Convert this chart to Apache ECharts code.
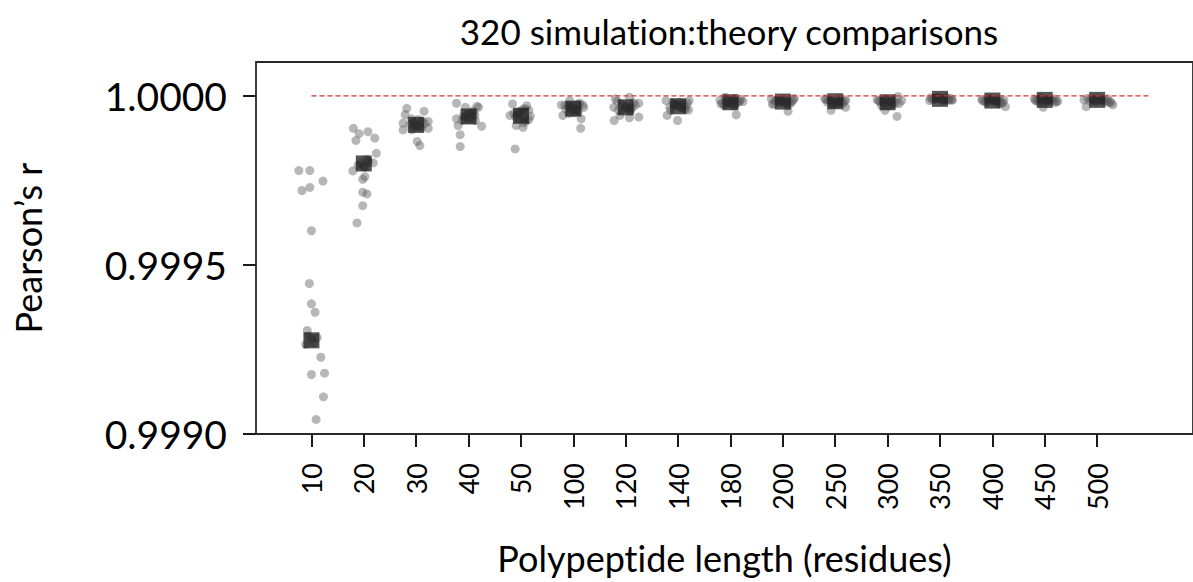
<!DOCTYPE html>
<html>
<head>
<meta charset="utf-8">
<script src="https://cdn.jsdelivr.net/npm/echarts@6/dist/echarts.min.js"></script>
<style>
  html, body { margin: 0; padding: 0; background: #ffffff; }
  #chart { width: 1193px; height: 582px; font-variant-ligatures: none; font-feature-settings: "liga" 0, "clig" 0; }
  #chart text { font-variant-ligatures: none; font-feature-settings: "liga" 0, "clig" 0; }
</style>
</head>
<body>
<div id="chart"></div>
<script>
// ---- Data ----
const categories = ['10','20','30','40','50','100','120','140','180','200','250','300','350','400','450','500'];

// mean Pearson's r per length (black squares)
const means = [0.999277, 0.999800, 0.999914, 0.999939, 0.999941, 0.999962, 0.999966, 0.999969,
               0.999981, 0.999983, 0.999984, 0.999981, 0.999991, 0.999986, 0.999988, 0.999988];

// individual simulation:theory comparisons (20 per length)
const pointValues = [
  [0.999779,0.999779,0.999748,0.999720,0.999729,0.999601,0.999445,0.999385,0.999360,0.999306,0.999227,0.999176,0.999180,0.999110,0.999043,0.999290,0.999270,0.999285,0.999265,0.999282],
  [0.999904,0.999888,0.999894,0.999875,0.999868,0.999830,0.999802,0.999789,0.999778,0.999761,0.999753,0.999715,0.999710,0.999675,0.999624,0.999800,0.999805,0.999795,0.999812,0.999790],
  [0.999963,0.999954,0.999944,0.999919,0.999899,0.999924,0.999904,0.999865,0.999853,0.999932,0.999920,0.999910,0.999915,0.999905,0.999925,0.999912,0.999930,0.999900,0.999918,0.999908],
  [0.999978,0.999966,0.999969,0.999966,0.999932,0.999912,0.999910,0.999885,0.999850,0.999927,0.999945,0.999935,0.999950,0.999940,0.999930,0.999948,0.999938,0.999955,0.999942,0.999928],
  [0.999976,0.999971,0.999942,0.999907,0.999843,0.999912,0.999957,0.999945,0.999935,0.999950,0.999925,0.999938,0.999960,0.999930,0.999948,0.999940,0.999920,0.999955,0.999932,0.999962],
  [0.999973,0.999942,0.999904,0.999973,0.999932,0.999986,0.999965,0.999958,0.999970,0.999955,0.999968,0.999975,0.999960,0.999950,0.999978,0.999962,0.999966,0.999948,0.999972,0.999957],
  [0.999991,0.999996,0.999978,0.999966,0.999937,0.999935,0.999927,0.999942,0.999970,0.999960,0.999975,0.999965,0.999958,0.999980,0.999968,0.999962,0.999972,0.999955,0.999984,0.999964],
  [0.999986,0.999978,0.999942,0.999927,0.999957,0.999986,0.999970,0.999965,0.999975,0.999962,0.999980,0.999968,0.999972,0.999960,0.999976,0.999966,0.999982,0.999958,0.999974,0.999970],
  [0.999944,0.999983,0.999996,0.999990,0.999978,0.999985,0.999975,0.999988,0.999980,0.999972,0.999992,0.999982,0.999976,0.999986,0.999979,0.999984,0.999970,0.999987,0.999981,0.999977],
  [0.999954,0.999991,0.999993,0.999976,0.999985,0.999980,0.999988,0.999978,0.999986,0.999982,0.999990,0.999975,0.999984,0.999987,0.999979,0.999983,0.999972,0.999989,0.999981,0.999985],
  [0.999966,0.999957,0.999981,0.999990,0.999985,0.999978,0.999987,0.999980,0.999992,0.999983,0.999976,0.999988,0.999982,0.999986,0.999979,0.999984,0.999975,0.999989,0.999981,0.999985],
  [0.999939,0.999986,0.999986,0.999957,0.999998,0.999980,0.999975,0.999984,0.999978,0.999988,0.999982,0.999972,0.999985,0.999979,0.999990,0.999977,0.999983,0.999970,0.999987,0.999981],
  [0.999986,0.999988,0.999995,0.999990,0.999992,0.999987,0.999994,0.999989,0.999993,0.999985,0.999991,0.999996,0.999988,0.999992,0.999990,0.999994,0.999987,0.999993,0.999989,0.999991],
  [0.999986,0.999968,0.999990,0.999982,0.999988,0.999984,0.999992,0.999980,0.999987,0.999985,0.999989,0.999983,0.999978,0.999991,0.999986,0.999981,0.999988,0.999984,0.999990,0.999976],
  [0.999986,0.999984,0.999966,0.999990,0.999988,0.999992,0.999985,0.999989,0.999983,0.999991,0.999987,0.999980,0.999993,0.999986,0.999990,0.999982,0.999988,0.999991,0.999984,0.999989],
  [0.999968,0.999973,0.999993,0.999988,0.999985,0.999990,0.999982,0.999987,0.999991,0.999984,0.999989,0.999986,0.999980,0.999992,0.999988,0.999983,0.999990,0.999986,0.999979,0.999988]
];

// horizontal strip-plot jitter of each point (in category units)
const pointJitter = [
  [-0.24,-0.03,0.22,-0.18,-0.03,0.0,-0.04,0.0,0.07,-0.08,0.18,0.0,0.25,0.23,0.09,-0.06,0.04,0.11,-0.11,0.0],
  [-0.20,-0.09,0.08,0.21,-0.15,0.24,0.18,0.03,-0.21,0.02,-0.02,-0.02,0.06,-0.02,-0.13,-0.06,0.09,-0.11,0.06,0.0],
  [-0.18,0.15,-0.21,-0.25,-0.25,0.23,0.23,0.02,0.07,-0.09,-0.05,0.05,-0.12,0.10,0.12,-0.02,0.04,-0.08,0.16,0.0],
  [-0.23,-0.06,0.16,0.19,-0.23,-0.20,0.25,-0.16,-0.16,0.13,-0.02,0.05,0.10,-0.10,0.0,0.03,-0.06,0.08,0.12,-0.12],
  [-0.16,0.11,-0.21,0.04,-0.11,-0.09,0.15,0.0,0.06,-0.05,0.10,-0.10,0.04,0.15,-0.14,0.18,0.05,-0.02,-0.04,0.08],
  [-0.23,-0.20,0.14,0.18,0.15,-0.07,0.0,0.05,-0.1,0.1,-0.05,0.08,-0.14,0.02,0.12,-0.02,0.2,-0.08,-0.16,0.06],
  [-0.2,0.07,0.25,-0.23,0.25,0.07,-0.22,-0.11,0.0,0.05,-0.06,0.12,-0.14,0.15,0.02,-0.03,0.18,0.09,-0.16,0.1],
  [-0.23,0.18,-0.21,-0.01,-0.14,0.21,0.0,0.05,-0.06,0.12,-0.1,0.08,-0.03,0.15,0.1,-0.16,0.03,0.2,-0.08,0.14],
  [0.11,0.24,-0.1,0.2,-0.15,0.05,0.1,-0.05,0.0,-0.12,0.08,0.15,-0.18,0.02,-0.08,0.18,0.06,-0.2,0.12,-0.02],
  [0.1,-0.22,0.22,-0.17,0.0,0.08,-0.1,0.15,-0.05,0.12,0.05,-0.2,0.18,-0.12,0.04,-0.02,0.1,0.2,-0.08,-0.15],
  [0.2,-0.08,-0.15,0.1,0.0,0.15,-0.1,0.05,-0.2,0.12,-0.05,0.2,0.08,-0.12,-0.02,0.18,0.03,-0.18,0.1,-0.06],
  [0.18,-0.17,0.27,-0.05,0.2,0.0,0.1,-0.1,0.15,-0.2,0.05,-0.12,0.12,0.08,-0.05,0.22,-0.15,0.02,0.06,-0.08],
  [-0.2,0.24,-0.05,0.1,-0.12,0.15,0.0,-0.15,0.2,0.05,-0.08,0.12,0.18,-0.02,0.08,-0.18,0.22,-0.1,0.03,0.14],
  [-0.19,0.25,-0.2,0.1,0.0,0.15,-0.1,0.2,-0.05,0.05,0.12,-0.15,0.18,-0.02,0.08,-0.12,0.22,0.02,-0.08,0.14],
  [-0.18,0.22,-0.03,0.1,0.0,-0.1,0.15,-0.05,0.05,0.18,-0.15,0.2,-0.08,0.08,0.12,-0.12,0.03,-0.2,0.25,0.06],
  [-0.21,0.3,-0.18,0.1,0.0,-0.1,0.15,0.05,0.2,-0.05,0.12,-0.14,0.22,-0.02,0.08,0.25,-0.08,0.18,0.27,-0.25]
];

const yTicks = [0.9990, 0.9995, 1.0000];
const referenceValue = 1.0;

// ---- Build series data ----
const categoryIdx = categories.map((c, i) => i);
const pointData = [];
pointValues.forEach((vals, i) => {
  vals.forEach((v, j) => pointData.push([i + pointJitter[i][j], v]));
});
const meanData = means.map((m, i) => [i, m]);
const refLine = [[0, referenceValue], [categories.length, referenceValue]];

const FONT = 'Lato, "Noto Sans", sans-serif';
const chart = echarts.init(document.getElementById('chart'), null, { renderer: 'svg' });

chart.setOption({
  animation: false,
  backgroundColor: '#ffffff',
  title: {
    text: '320 simulation:theory comparisons',
    left: 724, top: 8, textAlign: 'center',
    textStyle: { fontFamily: FONT, fontSize: 35, fontWeight: 'normal', color: '#000' }
  },
  grid: {
    left: 256, right: -10, top: 62, bottom: 148,
    show: true, borderColor: '#2a2a2a', borderWidth: 1.8, backgroundColor: 'transparent'
  },
  xAxis: {
    type: 'value',
    min: -1.058, max: 16.83,
    name: 'Polypeptide length (residues)',
    nameLocation: 'middle', nameGap: 106,
    nameTextStyle: { fontFamily: FONT, fontSize: 36, color: '#000' },
    axisLine: { show: false, onZero: false },
    splitLine: { show: false },
    axisTick: { show: true, length: 13, customValues: categoryIdx, lineStyle: { color: '#1a1a1a', width: 2 } },
    axisLabel: {
      customValues: categoryIdx,
      formatter: v => categories[Math.round(v)],
      rotate: 90, margin: 29,
      fontFamily: FONT, fontSize: 27, color: '#000'
    }
  },
  yAxis: {
    type: 'value',
    min: 0.9990, max: 1.0001,
    name: 'Pearson’s r',
    nameLocation: 'middle', nameGap: 210,
    nameTextStyle: { fontFamily: FONT, fontSize: 36, color: '#000' },
    axisLine: { show: false, onZero: false },
    splitLine: { show: false },
    axisTick: { show: true, length: 13, customValues: yTicks, lineStyle: { color: '#1a1a1a', width: 2 } },
    axisLabel: {
      customValues: yTicks,
      formatter: v => v.toFixed(4),
      margin: 29,
      fontFamily: FONT, fontSize: 39, color: '#000'
    }
  },
  series: [
    {
      type: 'scatter', data: pointData, symbol: 'circle', symbolSize: 9,
      itemStyle: { color: 'rgba(90,90,90,0.55)' }, z: 2, silent: true
    },
    {
      type: 'scatter', data: meanData, symbol: 'rect', symbolSize: 16,
      itemStyle: { color: 'rgba(25,25,25,0.92)' }, z: 3, silent: true
    },
    {
      type: 'line', data: refLine, symbol: 'none',
      lineStyle: { color: '#d63030', width: 1.2, type: [5, 3] }, z: 4, silent: true
    }
  ]
});
</script>
</body>
</html>
